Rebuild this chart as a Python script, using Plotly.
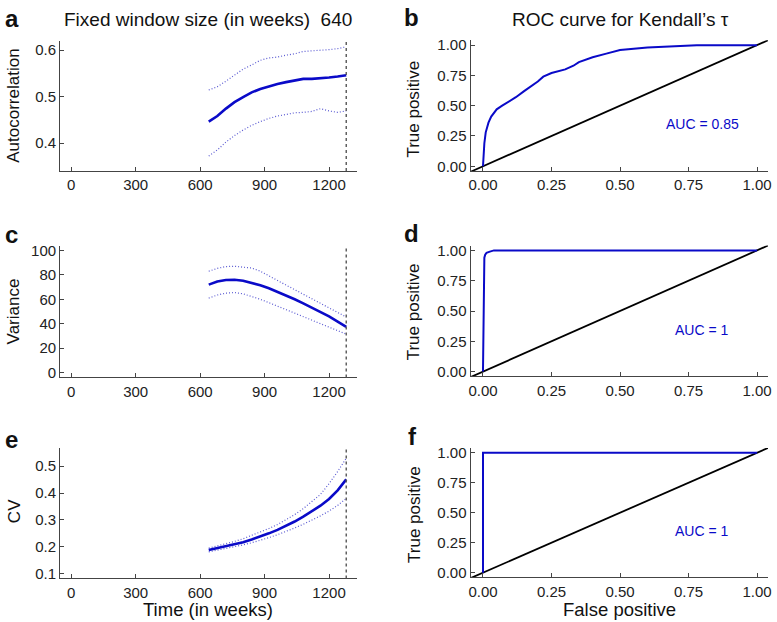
import plotly.graph_objects as go

# ---------------- data ----------------
weeks = [640, 680, 720, 760, 800, 840, 880, 920, 960, 1000, 1040, 1080, 1120, 1160, 1200, 1240, 1280]

acf_mean = [0.446, 0.458, 0.474, 0.488, 0.499, 0.509, 0.516, 0.522, 0.527, 0.531, 0.535, 0.538, 0.538, 0.539, 0.541, 0.543, 0.546]
acf_upper = [0.514, 0.521, 0.533, 0.547, 0.559, 0.568, 0.578, 0.583, 0.585, 0.589, 0.592, 0.597, 0.598, 0.599, 0.601, 0.603, 0.607]
acf_lower = [0.372, 0.385, 0.402, 0.416, 0.428, 0.438, 0.446, 0.453, 0.458, 0.462, 0.465, 0.466, 0.468, 0.474, 0.469, 0.466, 0.469]

var_mean = [72.0, 74.5, 75.8, 76.0, 75.2, 73.5, 71.5, 69.0, 66.2, 63.2, 60.0, 56.7, 53.2, 49.6, 46.0, 41.7, 37.5]
var_upper = [83.0, 85.3, 86.8, 87.0, 86.3, 85.6, 83.0, 79.0, 75.3, 71.6, 67.9, 64.2, 60.5, 56.8, 53.0, 49.3, 45.5]
var_lower = [61.0, 63.5, 65.0, 65.5, 64.5, 62.5, 60.0, 57.2, 54.4, 51.5, 48.7, 45.8, 43.0, 40.1, 37.3, 34.4, 31.5]

cv_mean = [0.188, 0.195, 0.202, 0.209, 0.217, 0.227, 0.238, 0.250, 0.263, 0.278, 0.294, 0.312, 0.331, 0.353, 0.378, 0.410, 0.451]
cv_upper = [0.195, 0.203, 0.211, 0.220, 0.230, 0.242, 0.255, 0.268, 0.283, 0.300, 0.320, 0.342, 0.367, 0.395, 0.435, 0.480, 0.530]
cv_lower = [0.181, 0.187, 0.193, 0.200, 0.207, 0.215, 0.224, 0.234, 0.245, 0.257, 0.270, 0.284, 0.299, 0.315, 0.333, 0.354, 0.380]

transition_week = 1280

roc_acf_fpr = [0, 0.002, 0.005, 0.01, 0.02, 0.03, 0.05, 0.07, 0.1, 0.12, 0.15, 0.17, 0.2, 0.22, 0.25, 0.3, 0.33, 0.35, 0.4, 0.45, 0.5, 0.55, 0.6, 0.7, 0.78, 1.0]
roc_acf_tpr = [0, 0.10, 0.19, 0.28, 0.36, 0.41, 0.47, 0.50, 0.54, 0.57, 0.62, 0.65, 0.70, 0.74, 0.77, 0.80, 0.83, 0.86, 0.90, 0.93, 0.96, 0.97, 0.98, 0.99, 1.0, 1.0]

roc_var_fpr = [0, 0.002, 0.003, 0.005, 0.008, 0.013, 0.025, 0.04, 1.0]
roc_var_tpr = [0, 0.50, 0.90, 0.94, 0.965, 0.98, 0.99, 1.0, 1.0]

roc_cv_fpr = [0, 0, 1.0]
roc_cv_tpr = [0, 1.0, 1.0]

auc_labels = ["AUC = 0.85", "AUC = 1", "AUC = 1"]

time_ticks = [0, 300, 600, 900, 1200]
acf_ticks = [0.4, 0.5, 0.6]
var_ticks = [0, 20, 40, 60, 80, 100]
cv_ticks = [0.1, 0.2, 0.3, 0.4, 0.5]
roc_ticks = [0, 0.25, 0.5, 0.75, 1.0]

# ---------------- style ----------------
W, H = 777, 622
FONT = "Liberation Sans, Arial, Helvetica, sans-serif"
BLUE = "#0a0ac8"
CI_BLUE = "#5a5ad2"
AXIS_COL = "#444444"
roc_range = [-0.045, 1.04]
time_range = [-51.2, 1331.2]


def px_x(a, b):
    return [a / W, b / W]


def px_y(top, bottom):
    return [1 - bottom / H, 1 - top / H]


fig = go.Figure()

left = [("x", "y", acf_mean, acf_upper, acf_lower),
        ("x3", "y3", var_mean, var_upper, var_lower),
        ("x5", "y5", cv_mean, cv_upper, cv_lower)]
for xa, ya, m, u, l in left:
    for ser in (u, l):
        fig.add_trace(go.Scatter(x=weeks, y=ser, xaxis=xa, yaxis=ya, mode="lines",
                                 line=dict(color=CI_BLUE, width=1.2, dash="1px,2px"),
                                 showlegend=False, hoverinfo="skip"))
    fig.add_trace(go.Scatter(x=weeks, y=m, xaxis=xa, yaxis=ya, mode="lines",
                             line=dict(color=BLUE, width=2.6),
                             showlegend=False))
    fig.add_shape(type="line", xref=xa, yref=ya + " domain", x0=transition_week, x1=transition_week,
                  y0=0, y1=1, line=dict(color="#555555", width=1.4, dash="3px,3px"))

right = [("x2", "y2", roc_acf_fpr, roc_acf_tpr),
         ("x4", "y4", roc_var_fpr, roc_var_tpr),
         ("x6", "y6", roc_cv_fpr, roc_cv_tpr)]
for i, (xa, ya, fx, fy) in enumerate(right):
    fig.add_trace(go.Scatter(x=roc_range, y=roc_range, xaxis=xa, yaxis=ya, mode="lines",
                             line=dict(color="black", width=1.8), showlegend=False, hoverinfo="skip"))
    fig.add_trace(go.Scatter(x=fx, y=fy, xaxis=xa, yaxis=ya, mode="lines",
                             line=dict(color=BLUE, width=2.0), showlegend=False))
    fig.add_annotation(x=0.80, y=0.345, xref=xa, yref=ya, text=auc_labels[i], showarrow=False,
                       font=dict(size=14, color=BLUE, family=FONT), xanchor="center", yanchor="middle")

axis_common = dict(showline=True, linecolor=AXIS_COL, linewidth=1.3, ticks="inside", ticklen=4,
                   tickwidth=1, tickcolor=AXIS_COL, showgrid=False, zeroline=False,
                   tickfont=dict(size=15, color="#222222", family=FONT))

LX = px_x(58.7, 358)
RX = px_x(472.3, 772)
layout = dict(
    xaxis=dict(domain=LX, range=time_range, tickvals=time_ticks, anchor="y", **axis_common),
    yaxis=dict(domain=px_y(37, 169), range=[0.3396, 0.6204], tickvals=acf_ticks, anchor="x", **axis_common),
    xaxis3=dict(domain=LX, range=time_range, tickvals=time_ticks, anchor="y3", **axis_common),
    yaxis3=dict(domain=px_y(244.3, 377.7), range=[-4, 104], tickvals=var_ticks, anchor="x3", **axis_common),
    xaxis5=dict(domain=LX, range=time_range, tickvals=time_ticks, anchor="y5", **axis_common),
    yaxis5=dict(domain=px_y(449, 581), range=[0.082, 0.568], tickvals=cv_ticks, anchor="x5", **axis_common),
    xaxis2=dict(domain=RX, range=roc_range, tickvals=roc_ticks, tickformat=".2f", anchor="y2", **axis_common),
    yaxis2=dict(domain=px_y(36.7, 169), range=[-0.04, 1.04], tickvals=roc_ticks, tickformat=".2f", anchor="x2", **axis_common),
    xaxis4=dict(domain=RX, range=roc_range, tickvals=roc_ticks, tickformat=".2f", anchor="y4", **axis_common),
    yaxis4=dict(domain=px_y(244.3, 376.7), range=[-0.04, 1.04], tickvals=roc_ticks, tickformat=".2f", anchor="x4", **axis_common),
    xaxis6=dict(domain=RX, range=roc_range, tickvals=roc_ticks, tickformat=".2f", anchor="y6", **axis_common),
    yaxis6=dict(domain=px_y(449, 580), range=[-0.04, 1.04], tickvals=roc_ticks, tickformat=".2f", anchor="x6", **axis_common),
)
fig.update_layout(**layout)


def ann(text, xp, yp, size, bold=False, angle=0, color="#111111", xanchor="center"):
    fig.add_annotation(x=xp / W, y=1 - yp / H, xref="paper", yref="paper", text=("<b>%s</b>" % text) if bold else text,
                       showarrow=False, textangle=angle, xanchor=xanchor, yanchor="middle",
                       font=dict(size=size, color=color, family=FONT))


# titles
ann("Fixed window size (in weeks)  640", 207.5, 16, 19)
ann("ROC curve for Kendall\u2019s \u03c4", 623, 16, 19)
# panel letters
ann("a", 1, 15, 24, bold=True, xanchor="left")
ann("b", 403, 14, 24, bold=True, xanchor="left")
ann("c", 1, 233, 24, bold=True, xanchor="left")
ann("d", 403, 232, 24, bold=True, xanchor="left")
ann("e", 1, 440, 24, bold=True, xanchor="left")
ann("f", 407, 437, 24, bold=True, xanchor="left")
# y titles
ann("Autocorrelation", 12, 103, 17, angle=-90)
ann("Variance", 12, 311, 17, angle=-90)
ann("CV", 12, 513, 17, angle=-90)
ann("True positive", 415, 106, 17, angle=-90)
ann("True positive", 415, 311, 17, angle=-90)
ann("True positive", 415, 516, 17, angle=-90)
# x titles
ann("Time (in weeks)", 208, 612, 18.5)
ann("False positive", 622.5, 612, 18.5)

fig.update_layout(width=W, height=H, margin=dict(l=0, r=0, t=0, b=0),
                  paper_bgcolor="white", plot_bgcolor="white", showlegend=False,
                  font=dict(family=FONT))

fig.write_html("out.html", config={"displayModeBar": False},
               post_script="document.body.style.margin='0';document.body.style.overflow='hidden';")
